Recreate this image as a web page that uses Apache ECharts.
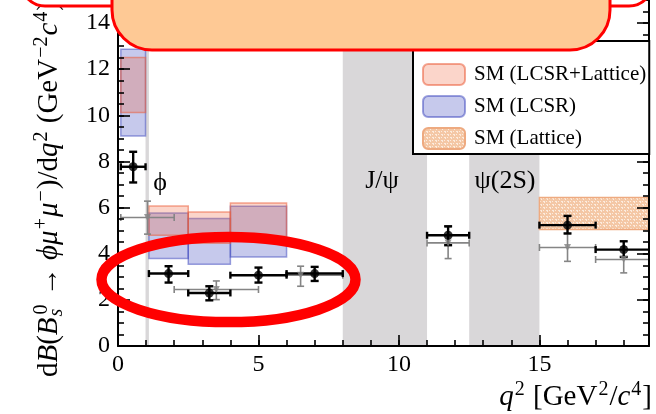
<!DOCTYPE html>
<html><head><meta charset="utf-8">
<script src="https://cdn.jsdelivr.net/npm/echarts@6/dist/echarts.min.js"></script>
<style>html,body{margin:0;padding:0;background:#fff}#c{width:656px;height:414px}</style>
</head><body><div id="c"></div>
<script>
// ---------- data ----------
const xMin = 0, xMax = 18.9, yMin = 0, yMax = 15;
const xTickStep = 5, xMinorStep = 1, yTickStep = 2, yMinorStep = 0.5;
// charmonium / phi veto regions
const vetoLo = [0.98, 8.0, 12.5];
const vetoHi = [1.1, 11.0, 15.0];
const vetoNames = ['ϕ', 'J/ψ', 'ψ(2S)'];
// SM predictions
const smBinLo = [0.1, 1.1, 2.5, 4.0];
const smBinHi = [0.98, 2.5, 4.0, 6.0];
const smLcsrLatLo = [10.12, 4.80, 4.45, 4.76];
const smLcsrLatHi = [12.51, 6.07, 5.81, 6.20];
const smLcsrLo = [9.10, 3.79, 3.54, 3.86];
const smLcsrHi = [12.86, 5.77, 5.53, 6.06];
const smLatBinLo = [15.0];
const smLatBinHi = [19.0];
const smLatLo = [5.05];
const smLatHi = [6.44];
// new measurement (black)
const newBinLo = [0.1, 1.1, 2.5, 4.0, 6.0, 11.0, 15.0, 17.0];
const newBinHi = [0.98, 2.5, 4.0, 6.0, 8.0, 12.5, 17.0, 19.0];
const newVal   = [7.77, 3.14, 2.30, 3.07, 3.14, 4.80, 5.24, 4.18];
const newErrUp = [0.65, 0.32, 0.29, 0.33, 0.29, 0.39, 0.40, 0.36];
const newErrDn = [0.68, 0.39, 0.32, 0.32, 0.32, 0.43, 0.36, 0.32];
// previous measurement (grey)
const oldBinLo = [0.1, 2.0, 5.0, 11.0, 15.0, 17.0];
const oldBinHi = [2.0, 5.0, 8.0, 12.5, 17.0, 19.0];
const oldVal   = [5.57, 2.45, 3.07, 4.47, 4.27, 3.75];
const oldErrUp = [0.71, 0.37, 0.39, 0.69, 0.60, 0.55];
const oldErrDn = [0.72, 0.44, 0.48, 0.68, 0.60, 0.58];
const legendNames = ['SM (LCSR+Lattice)', 'SM (LCSR)', 'SM (Lattice)'];

// ---------- helpers ----------
const FF = 'Liberation Serif';
const zip = (...a) => a[0].map((_, i) => a.map(x => x[i]));

function boxRender(fill, stroke, lw) {
  return function (params, api) {
    const p0 = api.coord([api.value(0), api.value(3)]);
    const p1 = api.coord([api.value(1), api.value(2)]);
    return { type: 'rect', shape: { x: p0[0], y: p0[1], width: p1[0] - p0[0], height: p1[1] - p0[1] },
      style: { fill: fill, stroke: stroke, lineWidth: lw } };
  };
}
function errRender(color, lw, capH, capV) {
  return function (params, api) {
    const lo = api.value(0), hi = api.value(1), y = api.value(2), up = api.value(3), dn = api.value(4);
    const xc = (lo + hi) / 2;
    const pL = api.coord([lo, y]), pR = api.coord([hi, y]);
    const pT = api.coord([xc, y + up]), pB = api.coord([xc, y - dn]);
    const st = { stroke: color, lineWidth: lw };
    const ln = (x1, y1, x2, y2) => ({ type: 'line', shape: { x1, y1, x2, y2 }, style: st });
    return { type: 'group', children: [
      ln(pL[0], pL[1], pR[0], pR[1]),
      ln(pL[0], pL[1] - capH, pL[0], pL[1] + capH),
      ln(pR[0], pR[1] - capH, pR[0], pR[1] + capH),
      ln(pT[0], pT[1], pB[0], pB[1]),
      ln(pT[0] - capV, pT[1], pT[0] + capV, pT[1]),
      ln(pB[0] - capV, pB[1], pB[0] + capV, pB[1])
    ] };
  };
}

// hatch pattern for lattice
const pc = document.createElement('canvas');
pc.width = 6; pc.height = 6;
const g = pc.getContext('2d');
g.fillStyle = '#f4c7a5'; g.fillRect(0, 0, 6, 6);
g.fillStyle = '#fcebdd';
g.fillRect(0, 0, 2, 1); g.fillRect(3, 3, 2, 1); g.fillRect(1, 1, 1, 1); g.fillRect(4, 4, 1, 1);
g.fillRect(3, 0, 1, 1); g.fillRect(0, 3, 1, 1);
const hatch = { image: pc, repeat: 'repeat' };

const RED_F = 'rgba(240,100,60,0.27)', RED_S = 'rgba(235,95,60,0.55)';
const BLU_F = 'rgba(60,70,190,0.29)', BLU_S = 'rgba(60,70,190,0.50)';
const LAT_S = '#eeaa80';

const axCommon = { type: 'value', splitLine: { show: false }, z: 3 };
const lbl = {
  fontFamily: FF, fontSize: 24, color: '#000',
  formatter: v => '{t|' + v + '}',
  rich: { t: { fontFamily: FF, fontSize: 24, color: '#000' } }
};

const chart = echarts.init(document.getElementById('c'), null, { renderer: 'canvas' });
chart.setOption({
  animation: false,
  backgroundColor: '#fff',
  textStyle: { fontFamily: FF },
  grid: { left: 118, top: 0, right: 7, bottom: 68, containLabel: false },
  xAxis: [
    Object.assign({}, axCommon, { min: xMin, max: xMax, interval: xTickStep, position: 'bottom',
      axisLine: { show: true, onZero: false, lineStyle: { color: '#000', width: 2 } },
      axisTick: { inside: true, length: 11, lineStyle: { color: '#000', width: 1.6 } },
      axisLabel: Object.assign({ margin: 7, showMaxLabel: false }, lbl) }),
    Object.assign({}, axCommon, { min: xMin, max: xMax, interval: xMinorStep, position: 'bottom', offset: 0,
      axisLine: { show: false, onZero: false },
      axisTick: { inside: true, length: 6, lineStyle: { color: '#000', width: 1.6 } },
      axisLabel: { show: false } })
  ],
  yAxis: [
    Object.assign({}, axCommon, { min: yMin, max: yMax, interval: yTickStep, position: 'left',
      axisLine: { show: true, onZero: false, lineStyle: { color: '#000', width: 2 } },
      axisTick: { inside: true, length: 12, lineStyle: { color: '#000', width: 1.6 } },
      axisLabel: Object.assign({ margin: 8, showMaxLabel: false }, lbl) }),
    Object.assign({}, axCommon, { min: yMin, max: yMax, interval: yMinorStep, position: 'left', offset: 0,
      axisLine: { show: false, onZero: false },
      axisTick: { inside: true, length: 6, lineStyle: { color: '#000', width: 1.6 } },
      axisLabel: { show: false } }),
    Object.assign({}, axCommon, { min: yMin, max: yMax, interval: yTickStep, position: 'right', offset: 0,
      axisLine: { show: true, onZero: false, lineStyle: { color: '#000', width: 2 } },
      axisTick: { inside: true, length: 12, lineStyle: { color: '#000', width: 1.6 } },
      axisLabel: { show: false } }),
    Object.assign({}, axCommon, { min: yMin, max: yMax, interval: yMinorStep, position: 'right', offset: 0,
      axisLine: { show: false, onZero: false },
      axisTick: { inside: true, length: 6, lineStyle: { color: '#000', width: 1.6 } },
      axisLabel: { show: false } })
  ],
  legend: {
    orient: 'vertical', left: 413, top: 41, padding: [22, 3, 4, 9],
    itemWidth: 42, itemHeight: 21, itemGap: 9,
    backgroundColor: '#fff', borderColor: '#000', borderWidth: 2, borderRadius: 0,
    textStyle: { fontFamily: FF, fontSize: 21, color: '#000', padding: [0, 0, 0, 4] },
    data: legendNames, selectedMode: false, z: 5
  },
  series: [
    { type: 'custom', name: 'veto', silent: true, clip: true, z: 1,
      renderItem: boxRender('#d9d7d9', null, 0),
      encode: { x: [0, 1], y: [2, 3] },
      data: zip(vetoLo, vetoHi, vetoLo.map(() => yMin), vetoLo.map(() => yMax)) },
    { type: 'custom', name: legendNames[1], clip: true, z: 2,
      itemStyle: { color: BLU_F, borderColor: BLU_S, borderWidth: 1.5 },
      renderItem: boxRender(BLU_F, BLU_S, 1.5),
      encode: { x: [0, 1], y: [2, 3] },
      data: zip(smBinLo, smBinHi, smLcsrLo, smLcsrHi) },
    { type: 'custom', name: legendNames[0], clip: true, z: 2,
      itemStyle: { color: RED_F, borderColor: RED_S, borderWidth: 1.5 },
      renderItem: boxRender(RED_F, RED_S, 1.5),
      encode: { x: [0, 1], y: [2, 3] },
      data: zip(smBinLo, smBinHi, smLcsrLatLo, smLcsrLatHi) },
    { type: 'custom', name: legendNames[2], clip: true, z: 2,
      itemStyle: { color: hatch, borderColor: LAT_S, borderWidth: 1.5 },
      renderItem: boxRender(hatch, LAT_S, 1.5),
      encode: { x: [0, 1], y: [2, 3] },
      data: zip(smLatBinLo, smLatBinHi, smLatLo, smLatHi) },
    { type: 'custom', name: 'old', silent: true, clip: true, z: 2,
      renderItem: errRender('#858585', 1.6, 3.5, 3.5),
      encode: { x: [0, 1], y: 2 },
      data: zip(oldBinLo, oldBinHi, oldVal, oldErrUp, oldErrDn) },
    { type: 'scatter', name: 'oldPts', silent: true, z: 2,
      symbol: 'triangle', symbolRotate: 180, symbolSize: 7,
      itemStyle: { color: '#858585' },
      data: zip(oldBinLo.map((v, i) => (v + oldBinHi[i]) / 2), oldVal) },
    { type: 'custom', name: 'new', silent: true, clip: true, z: 2,
      renderItem: errRender('#000', 2.4, 3.5, 4),
      encode: { x: [0, 1], y: 2 },
      data: zip(newBinLo, newBinHi, newVal, newErrUp, newErrDn) },
    { type: 'scatter', name: 'newPts', silent: true, z: 2,
      symbol: 'circle', symbolSize: 9,
      itemStyle: { color: '#000' },
      data: zip(newBinLo.map((v, i) => (v + newBinHi[i]) / 2), newVal) }
  ],
  graphic: [
    // veto labels
    { type: 'text', z: 4, x: 160, y: 183, style: { text: vetoNames[0], font: '26px "Liberation Serif"', fill: '#000', align: 'center', verticalAlign: 'middle' } },
    { type: 'text', z: 4, x: 382, y: 181, style: { text: vetoNames[1], font: '26px "Liberation Serif"', fill: '#000', align: 'center', verticalAlign: 'middle' } },
    { type: 'text', z: 4, x: 505, y: 181, style: { text: vetoNames[2], font: '26px "Liberation Serif"', fill: '#000', align: 'center', verticalAlign: 'middle' } },
    // x axis title
    { type: 'text', z: 4, x: 652, y: 397, style: {
      text: '{i|q}{s|2}{r| [GeV}{s|2}{r|/}{i|c}{s|4}{r|]}', align: 'right', verticalAlign: 'middle',
      rich: {
        r: { fontFamily: FF, fontSize: 29, color: '#000' },
        i: { fontFamily: FF, fontSize: 29, fontStyle: 'italic', color: '#000' },
        s: { fontFamily: FF, fontSize: 20, color: '#000', padding: [0, 1, 14, 1] }
      } } },
    // y axis title
    { type: 'text', z: 4, x: 49, y: 377, rotation: Math.PI / 2, style: {
      text: '{r|d}{i|B}{r|(}{i|B}{b|s}{s|0}{r| → }{i|ϕμ}{s|+}{i|μ}{s|−}{r|)/d}{i|q}{s|2}{r| (GeV}{s|−2}{i|c}{s|4}{r|)}',
      align: 'left', verticalAlign: 'middle',
      rich: {
        r: { fontFamily: FF, fontSize: 29, color: '#000' },
        i: { fontFamily: FF, fontSize: 29, fontStyle: 'italic', color: '#000' },
        s: { fontFamily: FF, fontSize: 20, color: '#000', padding: [0, 1, 14, 1] },
        b: { fontFamily: FF, fontSize: 20, fontStyle: 'italic', color: '#000', padding: [15, 0, 0, 1], width: 1 }
      } } },
    // annotation overlays
    { type: 'ellipse', z: 100, shape: { cx: 228.5, cy: 279.6, rx: 127, ry: 42.5 },
      style: { fill: null, stroke: '#ff0000', lineWidth: 10.5 } },
    { type: 'rect', z: 100, shape: { x: 21, y: -120, width: 632, height: 126, r: 24 },
      style: { fill: '#fff', stroke: '#ff0000', lineWidth: 3 } },
    { type: 'rect', z: 101, shape: { x: 112, y: -70, width: 498, height: 120, r: 40 },
      style: { fill: '#fec995', stroke: '#ff0000', lineWidth: 3 } }
  ]
});
</script></body></html>
